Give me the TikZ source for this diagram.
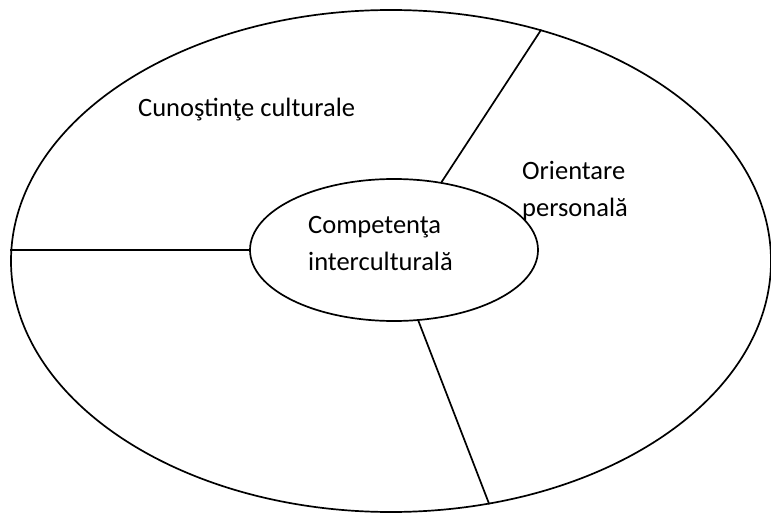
\documentclass[tikz,border=0pt]{standalone}
\usepackage{fontspec}
\setmainfont{Carlito}
\usetikzlibrary{shapes.geometric}
\tikzset{
  ring/.style={ellipse, draw, line width=1.7pt, inner sep=0pt},
  spoke/.style={line width=1.7pt},
  caption/.style={inner sep=0pt, align=left, font=\fontsize{26.5}{37}\selectfont}
}

\begin{document}
\begin{tikzpicture}[x=1pt, y=-1pt]
  \useasboundingbox (0,0) rectangle (771,513);
  \node [ring, minimum width=760pt, minimum height=502pt] (rim) at (391,261) {};
  \node [ring, minimum width=288pt, minimum height=142pt] (core) at (394,250) {};
  % sector dividers
  \draw [spoke] (core.55) -- (rim.57);
  \draw [spoke] (core.west) -- (core.west -| rim.west);
  \draw [spoke] (core.-71) -- (rim.-68);
  % texts (base = last line)
  \node [caption, anchor=base west] (knowledge) at (138,117) {Cunoştinţe culturale};
  \node [caption, anchor=base west] (attitude) at (522,217) {Orientare\\personală};
  \node [caption, anchor=base west] (competence) at (308,270) {Competenţa\\interculturală};
\end{tikzpicture}
\end{document}
